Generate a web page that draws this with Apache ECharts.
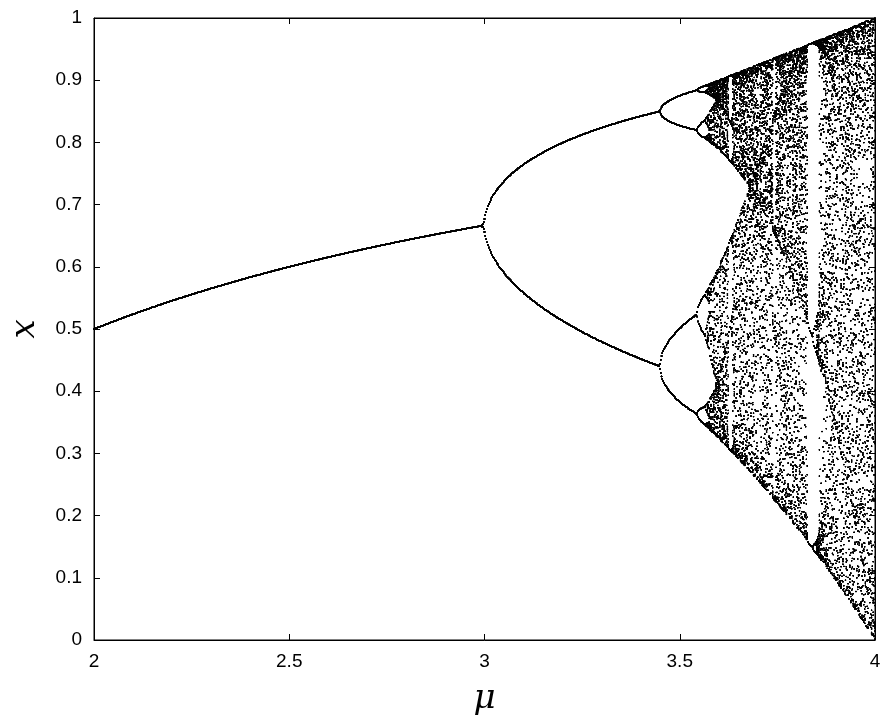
<!DOCTYPE html>
<html><head><meta charset="utf-8">
<script src="https://cdn.jsdelivr.net/npm/echarts@6/dist/echarts.min.js"></script>
<style>html,body{margin:0;padding:0;background:#fff}#c{width:890px;height:728px}</style>
</head><body><div id="c"></div>
<script>
// Axis ticks
var xTicks = [2, 2.5, 3, 3.5, 4];
var yTicks = [0, 0.1, 0.2, 0.3, 0.4, 0.5, 0.6, 0.7, 0.8, 0.9, 1];
// Parameter range of the diagram (logistic map x -> mu x (1-x))
var muRange = [2, 4];
var muSteps = 900;
var transient = 400;
var keep = 60;

var points = [];
for (var i = 0; i <= muSteps; i++) {
  var mu = muRange[0] + (muRange[1] - muRange[0]) * i / muSteps;
  var x = 0.31;
  for (var t = 0; t < transient; t++) x = mu * x * (1 - x);
  for (var k = 0; k < keep; k++) { x = mu * x * (1 - x); points.push([mu, x]); }
}

var chart = echarts.init(document.getElementById('c'));
var axCommon = {
  axisLine: {show: true, onZero: false, lineStyle: {color: '#000', width: 1}},
  axisTick: {inside: true, length: 6, lineStyle: {color: '#000'}},
  splitLine: {show: false}
};
chart.setOption({
  animation: false,
  backgroundColor: '#fff',
  grid: {left: 87, right: 15, top: 18, bottom: 88, show: true, borderColor: '#000', borderWidth: 1, backgroundColor: '#fff'},
  xAxis: [
    Object.assign({type: 'value', min: 2, max: 4, interval: 0.5, name: 'μ', nameLocation: 'middle', nameGap: 42,
      nameTextStyle: {fontFamily: 'DejaVu Serif', fontStyle: 'italic', fontSize: 34, color: '#000'},
      axisLabel: {color: '#000', fontSize: 19, fontFamily: 'Liberation Sans', margin: 12}}, axCommon),
    Object.assign({type: 'value', min: 2, max: 4, interval: 0.5, position: 'top', axisLabel: {show: false}}, axCommon)
  ],
  yAxis: [
    Object.assign({type: 'value', min: 0, max: 1, interval: 0.1, name: 'x', nameLocation: 'middle', nameGap: 52, nameRotate: 90,
      nameTextStyle: {fontFamily: 'DejaVu Serif', fontStyle: 'italic', fontSize: 34, color: '#000'},
      axisLabel: {color: '#000', fontSize: 19, fontFamily: 'Liberation Sans', margin: 12}}, axCommon),
    Object.assign({type: 'value', min: 0, max: 1, interval: 0.1, position: 'right', axisLabel: {show: false}}, axCommon)
  ],
  series: [{
    type: 'scatter', large: true, largeThreshold: 1000, symbolSize: 1.1,
    itemStyle: {color: '#000'}, data: points
  }]
});
</script></body></html>
